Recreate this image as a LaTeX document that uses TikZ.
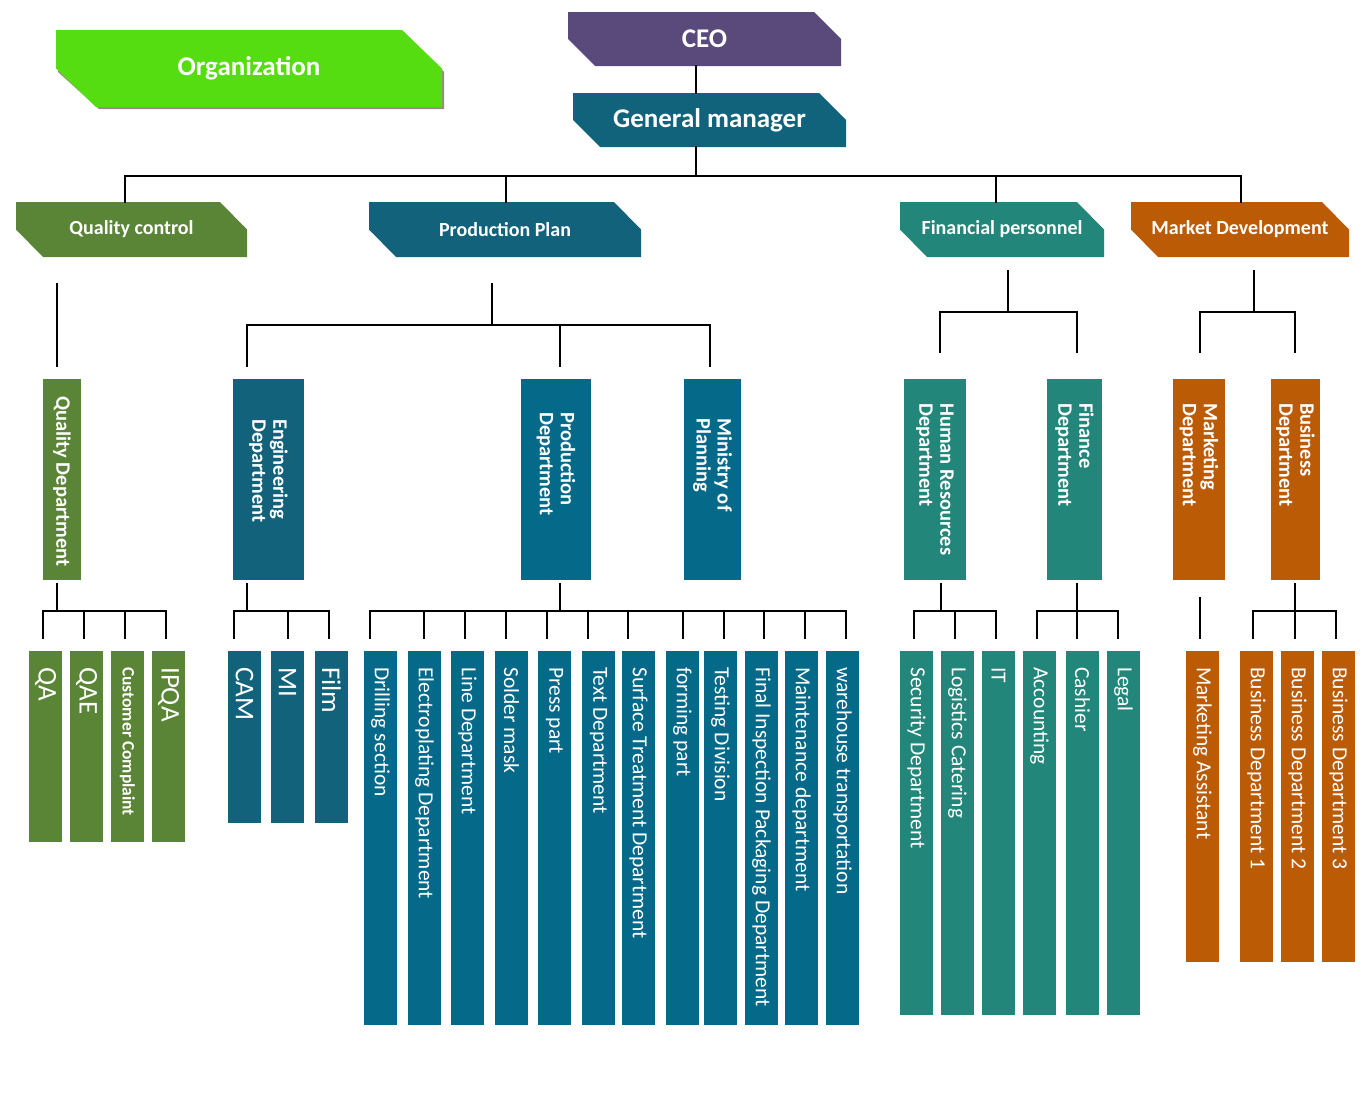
\documentclass[tikz,border=0pt]{standalone}
\usepackage{fontspec}
\setmainfont{Carlito}
\usetikzlibrary{calc}
\definecolor{cOrg}{HTML}{55DD11}
\definecolor{cOrgSh}{HTML}{A08585}
\definecolor{cCeo}{HTML}{5A4A7C}
\definecolor{cGm}{HTML}{10637A}
\definecolor{cQc}{HTML}{5A8436}
\definecolor{cPp}{HTML}{11627A}
\definecolor{cPd}{HTML}{05698A}
\definecolor{cFp}{HTML}{22867A}
\definecolor{cMd}{HTML}{BB5B06}
\pgfdeclarelayer{bg}
\pgfsetlayers{bg,main}
% header: name, cx, cy, w, h, chamfer, colour, fontsize, text
\newcommand\chead[9]{%
  \node[box, minimum width=#4pt, minimum height=#5pt, text=white,
        font=\bfseries\fontsize{#8}{#8}\selectfont] (#1) at (#2,#3) {#9};
  \begin{pgfonlayer}{bg}
    \fill[#7] (#1.north west) -- ([xshift=-#6pt]#1.north east) -- (#1.east)
      -- (#1.south east) -- ([xshift=#6pt]#1.south west) -- (#1.west) -- cycle;
  \end{pgfonlayer}}
% department: name, cx, w, pad, colour, text
\newcommand\dept[6]{%
  \node[box, fill=#5, minimum width=#3pt, minimum height=201pt] (#1) at (#2,479.5) {};
  \node[rotate=-90, anchor=west, inner sep=0pt, text=white, align=left,
        font=\bfseries\fontsize{20.5}{21}\selectfont] (#1t) at ([yshift=-#4pt]#1.north) {#6};}
% leaf: name, cx, cy, length, colour, font, text
\newcommand\leaf[7]{%
  \node[box, fill=#5, minimum width=33pt, minimum height=#4pt] (#1) at (#2,#3) {};
  \node[rotate=-90, anchor=west, inner sep=0pt, text=white, font=#6] (#1t)
        at ([yshift=-16pt]#1.north) {#7};}
\newcommand\lf{\fontsize{21.5}{24}\selectfont}
\newcommand\bigf{\fontsize{27}{30}\selectfont}
\newcommand\ccf{\bfseries\fontsize{17.5}{20}\selectfont}
\begin{document}
\begin{tikzpicture}[x=1pt,y=-1pt,
  box/.style={inner sep=0pt, outer sep=0pt, draw=none},
  conn/.style={draw=black, line width=2.2pt, line cap=rect}]
\begin{pgfonlayer}{bg}
  \fill[white] (0,0) rectangle (1369,1114);
  \fill[cOrgSh] (58,32) -- (404,32) -- (444,72) -- (444,109) -- (99,109) -- (58,72) -- cycle;
\end{pgfonlayer}
\useasboundingbox (0,0) rectangle (1369,1114);

% ---------- top level ----------
\chead{org}{249}{68.5}{386}{77}{40}{cOrg}{27}{Organization}
\chead{ceo}{704.5}{39}{273}{54}{27}{cCeo}{27}{CEO}
\chead{gm}{709.5}{120}{273}{54}{27}{cGm}{27}{General manager}

% ---------- second level ----------
\chead{qc}{131.5}{229.5}{231}{55}{27}{cQc}{20}{Quality control}
\chead{pp}{505}{229.5}{272}{55}{27}{cPp}{20}{Production Plan}
\chead{fp}{1002}{229.5}{204}{55}{27}{cFp}{20}{Financial personnel}
\chead{md}{1240}{229.5}{218}{55}{27}{cMd}{20}{Market Development}

% ---------- third level ----------
\dept{qd}{62}{38}{17}{cQc}{Quality Department}
\dept{ed}{268.5}{71}{40}{cPp}{Engineering\\Department}
\dept{pd}{556}{70}{33}{cPd}{Production\\Department}
\dept{mp}{712.5}{57}{39}{cPd}{Ministry of\\Planning}
\dept{hr}{935}{62}{24}{cFp}{Human Resources\\Department}
\dept{fd}{1074.5}{55}{24}{cFp}{Finance\\Department}
\dept{mkd}{1199}{52}{24}{cMd}{Marketing\\Department}
\dept{bd}{1295.5}{49}{24}{cMd}{Business\\Department}

% ---------- leaves ----------
\leaf{qa}{45.5}{746.5}{191}{cQc}{\bigf}{QA}
\leaf{qae}{86.5}{746.5}{191}{cQc}{\bigf}{QAE}
\leaf{cc}{127.5}{746.5}{191}{cQc}{\ccf}{Customer Complaint}
\leaf{ipqa}{168.5}{746.5}{191}{cQc}{\bigf}{IPQA}

\leaf{cam}{244.5}{737}{172}{cPp}{\bigf}{CAM}
\leaf{mi}{287.5}{737}{172}{cPp}{\bigf}{MI}
\leaf{film}{331.5}{737}{172}{cPp}{\bigf}{Film}

\leaf{dri}{380.5}{838}{374}{cPd}{\lf}{Drilling section}
\leaf{ele}{424.5}{838}{374}{cPd}{\lf}{Electroplating Department}
\leaf{lin}{467.5}{838}{374}{cPd}{\lf}{Line Department}
\leaf{sol}{511.5}{838}{374}{cPd}{\lf}{Solder mask}
\leaf{pre}{554.5}{838}{374}{cPd}{\lf}{Press part}
\leaf{tex}{598.5}{838}{374}{cPd}{\lf}{Text Department}
\leaf{sur}{638.5}{838}{374}{cPd}{\lf}{Surface Treatment Department}
\leaf{for}{682.5}{838}{374}{cPd}{\lf}{forming part}
\leaf{tes}{720.5}{838}{374}{cPd}{\lf}{Testing Division}
\leaf{fin}{761.5}{838}{374}{cPd}{\lf}{Final Inspection Packaging Department}
\leaf{mai}{801.5}{838}{374}{cPd}{\lf}{Maintenance department}
\leaf{war}{842.5}{838}{374}{cPd}{\lf}{warehouse transportation}

\leaf{sec}{916.5}{833}{364}{cFp}{\lf}{Security Department}
\leaf{log}{957.5}{833}{364}{cFp}{\lf}{Logistics Catering}
\leaf{it}{998.5}{833}{364}{cFp}{\lf}{IT}
\leaf{acc}{1039.5}{833}{364}{cFp}{\lf}{Accounting}
\leaf{cas}{1082.5}{833}{364}{cFp}{\lf}{Cashier}
\leaf{leg}{1123.5}{833}{364}{cFp}{\lf}{Legal}

\leaf{mas}{1202.5}{806.5}{311}{cMd}{\lf}{Marketing Assistant}
\leaf{bda}{1256.5}{806.5}{311}{cMd}{\lf}{Business Department 1}
\leaf{bdb}{1297.5}{806.5}{311}{cMd}{\lf}{Business Department 2}
\leaf{bdc}{1338.5}{806.5}{311}{cMd}{\lf}{Business Department 3}

% ---------- connectors: top ----------
\coordinate (spine) at (696,176);
\draw[conn] (ceo.south -| spine) -- (gm.north -| spine);
\draw[conn] (gm.south -| spine) -- (spine);
\coordinate (bQ) at (125,176);
\coordinate (bP) at (506,176);
\coordinate (bF) at (996,176);
\coordinate (bM) at (1241,176);
\draw[conn] (bQ) -- (bM);
\draw[conn] (bQ) -- (bQ |- qc.north);
\draw[conn] (bP) -- (bP |- pp.north);
\draw[conn] (bF) -- (bF |- fp.north);
\draw[conn] (bM) -- (bM |- md.north);

% ---------- connectors: level 2 -> 3 ----------
\coordinate (q1) at (57,284); \coordinate (q2) at (57,366);
\draw[conn] (q1) -- (q2);

\coordinate (p1) at (492,284); \coordinate (p2) at (492,325);
\coordinate (pa) at (247,325); \coordinate (pb) at (560,325); \coordinate (pc) at (710,325);
\draw[conn] (p1) -- (p2);
\draw[conn] (pa) -- (pc);
\draw[conn] (pa) -- +(0,41);
\draw[conn] (pb) -- +(0,41);
\draw[conn] (pc) -- +(0,41);

\coordinate (f1) at (1008,271); \coordinate (f2) at (1008,312);
\coordinate (fa) at (940,312); \coordinate (fb) at (1077,312);
\draw[conn] (f1) -- (f2);
\draw[conn] (fa) -- (fb);
\draw[conn] (fa) -- +(0,40);
\draw[conn] (fb) -- +(0,40);

\coordinate (m1) at (1254,271); \coordinate (m2) at (1254,312);
\coordinate (ma) at (1200,312); \coordinate (mb) at (1295,312);
\draw[conn] (m1) -- (m2);
\draw[conn] (ma) -- (mb);
\draw[conn] (ma) -- +(0,40);
\draw[conn] (mb) -- +(0,40);

% ---------- connectors: level 3 -> 4 ----------
\draw[conn] (57,584) -- (57,611);
\draw[conn] (43,611) -- (166,611);
\foreach \x in {43,84,125,166} \draw[conn] (\x,611) -- (\x,638);

\draw[conn] (247,584) -- (247,611);
\draw[conn] (234,611) -- (329,611);
\foreach \x in {234,288,329} \draw[conn] (\x,611) -- (\x,638);

\draw[conn] (560,584) -- (560,611);
\draw[conn] (370,611) -- (846,611);
\foreach \x in {370,424,465,506,547,588,628,683,724,764,805,846} \draw[conn] (\x,611) -- (\x,638);

\draw[conn] (941,584) -- (941,611);
\draw[conn] (914,611) -- (996,611);
\foreach \x in {914,955,996} \draw[conn] (\x,611) -- (\x,638);

\draw[conn] (1077,584) -- (1077,611);
\draw[conn] (1037,611) -- (1118,611);
\foreach \x in {1037,1077,1118} \draw[conn] (\x,611) -- (\x,638);

\draw[conn] (1200,598) -- (1200,638);

\draw[conn] (1295,584) -- (1295,611);
\draw[conn] (1253,611) -- (1336,611);
\foreach \x in {1253,1295,1336} \draw[conn] (\x,611) -- (\x,638);
\end{tikzpicture}
\end{document}
